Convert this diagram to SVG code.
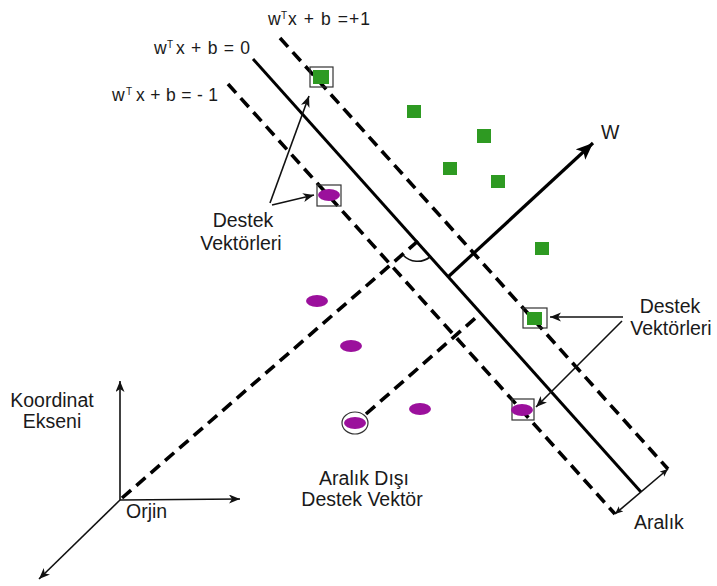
<svg xmlns="http://www.w3.org/2000/svg" width="717" height="586" viewBox="0 0 717 586">
  <style>
    .lbl{font-family:"Liberation Sans",Arial,sans-serif;font-size:19.5px;fill:#1a1a1a}
    .eq{font-family:"Liberation Sans",Arial,sans-serif;font-size:17.5px;fill:#1a1a1a}
    .sup{font-family:"Liberation Sans",Arial,sans-serif;font-size:10px;fill:#1a1a1a}
    .dash{stroke:#000;stroke-width:3.6;stroke-dasharray:12 7;fill:none}
    .solid{stroke:#000;stroke-width:3;fill:none}
    .thin{stroke:#111;stroke-width:1.6;fill:none}
    .pos{fill:#2e9a22}
    .neg{fill:#9b109c}
    .frame{fill:none;stroke:#333;stroke-width:1.2}
  </style>
  <defs>
    <marker id="ah" markerUnits="userSpaceOnUse" markerWidth="12" markerHeight="10" refX="11" refY="4.5" orient="auto-start-reverse">
      <path d="M0,0 L11,4.5 L0,9 L3,4.5 z" fill="#111"/>
    </marker>
    <marker id="ahs" markerUnits="userSpaceOnUse" markerWidth="9" markerHeight="8" refX="8" refY="3.5" orient="auto-start-reverse">
      <path d="M0,0 L8,3.5 L0,7 L2,3.5 z" fill="#111"/>
    </marker>
    <marker id="wh" markerUnits="userSpaceOnUse" markerWidth="20" markerHeight="16" refX="17" refY="7" orient="auto">
      <path d="M0,0 L17,7 L0,14 L4,7 z" fill="#000"/>
    </marker>
  </defs>
  <rect width="717" height="586" fill="#fff"/>

  <!-- hyperplanes and margins -->
  <g id="hyperplanes">
    <line class="dash" x1="280" y1="38" x2="668" y2="469"/>
    <line class="solid" x1="253" y1="59" x2="641" y2="492"/>
    <line class="dash" x1="228" y1="84" x2="615" y2="514"/>
  </g>

  <!-- projections onto the hyperplane -->
  <g id="projections">
    <line class="dash" x1="122" y1="498" x2="418" y2="241"/>
    <line class="dash" x1="366" y1="414" x2="480" y2="314"/>
    <path class="thin" d="M403,255 A20,20 0 0 0 430,257" stroke-width="1.3"/>
  </g>

  <!-- normal vector w -->
  <g id="w-vector">
    <line x1="448" y1="277" x2="593" y2="143" stroke="#000" stroke-width="3.2" marker-end="url(#wh)"/>
    <text class="lbl" x="601" y="139" font-size="18">W</text>
  </g>

  <!-- class +1 samples -->
  <g id="positive">
    <rect class="frame" x="310" y="67" width="23" height="20"/>
    <rect class="pos" x="313" y="70" width="16" height="14"/>
    <rect class="pos" x="407" y="105" width="14" height="13"/>
    <rect class="pos" x="477" y="129" width="14" height="14"/>
    <rect class="pos" x="443" y="162" width="14" height="13"/>
    <rect class="pos" x="491" y="175" width="14" height="13"/>
    <rect class="pos" x="535" y="242" width="14" height="13"/>
    <rect class="frame" x="523" y="308" width="24" height="20"/>
    <rect class="pos" x="527" y="312" width="15" height="13"/>
  </g>

  <!-- class -1 samples -->
  <g id="negative">
    <rect class="frame" x="317" y="185" width="24" height="21"/>
    <ellipse class="neg" cx="329" cy="195" rx="11" ry="6"/>
    <ellipse class="neg" cx="317" cy="301" rx="11" ry="6"/>
    <ellipse class="neg" cx="351" cy="346" rx="11" ry="6"/>
    <ellipse class="neg" cx="420" cy="409" rx="11" ry="6"/>
    <ellipse class="frame" cx="355" cy="423" rx="13" ry="11"/>
    <ellipse class="neg" cx="355" cy="423" rx="11" ry="6"/>
    <rect class="frame" x="512" y="399" width="22" height="21"/>
    <ellipse class="neg" cx="522" cy="410" rx="11" ry="6"/>
  </g>

  <!-- coordinate axes -->
  <g id="axes">
    <line class="thin" x1="120" y1="500" x2="120" y2="381" marker-end="url(#ah)"/>
    <line class="thin" x1="120" y1="500" x2="240" y2="499" marker-end="url(#ah)"/>
    <line class="thin" x1="120" y1="500" x2="39" y2="579" marker-end="url(#ah)"/>
  </g>

  <!-- annotation connectors -->
  <g id="connectors">
    <line class="thin" x1="270" y1="203" x2="309" y2="96" marker-end="url(#ah)"/>
    <line class="thin" x1="272" y1="205" x2="314" y2="195" marker-end="url(#ah)"/>
    <line class="thin" x1="623" y1="317" x2="550" y2="317" marker-end="url(#ah)"/>
    <line class="thin" x1="622" y1="321" x2="536" y2="407" marker-end="url(#ah)"/>
    <line class="thin" x1="615" y1="514" x2="668" y2="469" stroke-width="1.3" marker-start="url(#ahs)" marker-end="url(#ahs)"/>
  </g>

  <!-- equation labels -->
  <g id="eq-plus">
    <text class="eq" x="268" y="25">w</text>
    <text class="sup" x="281" y="19">T</text>
    <text class="eq" x="288" y="25" textLength="82" lengthAdjust="spacing">x + b =+1</text>
  </g>
  <g id="eq-zero">
    <text class="eq" x="154" y="54">w</text>
    <text class="sup" x="167" y="48">T</text>
    <text class="eq" x="176" y="54" textLength="74" lengthAdjust="spacing">x + b = 0</text>
  </g>
  <g id="eq-minus">
    <text class="eq" x="112" y="101">w</text>
    <text class="sup" x="126" y="95">T</text>
    <text class="eq" x="136" y="101" textLength="82" lengthAdjust="spacing">x + b = - 1</text>
  </g>

  <!-- text labels -->
  <g id="label-sv-left">
    <text class="lbl" x="243" y="227" text-anchor="middle">Destek</text>
    <text class="lbl" x="241" y="250" text-anchor="middle">Vektörleri</text>
  </g>
  <g id="label-sv-right">
    <text class="lbl" x="670" y="313" text-anchor="middle">Destek</text>
    <text class="lbl" x="671" y="335" text-anchor="middle">Vektörleri</text>
  </g>
  <g id="label-axes">
    <text class="lbl" x="52" y="407" text-anchor="middle">Koordinat</text>
    <text class="lbl" x="52" y="428" text-anchor="middle">Ekseni</text>
    <text class="lbl" x="126" y="518">Orjin</text>
  </g>
  <g id="label-outlier">
    <text class="lbl" x="364" y="485" text-anchor="middle">Aralık Dışı</text>
    <text class="lbl" x="362" y="506" text-anchor="middle">Destek Vektör</text>
  </g>
  <g id="label-margin">
    <text class="lbl" x="634" y="529">Aralık</text>
  </g>
</svg>
